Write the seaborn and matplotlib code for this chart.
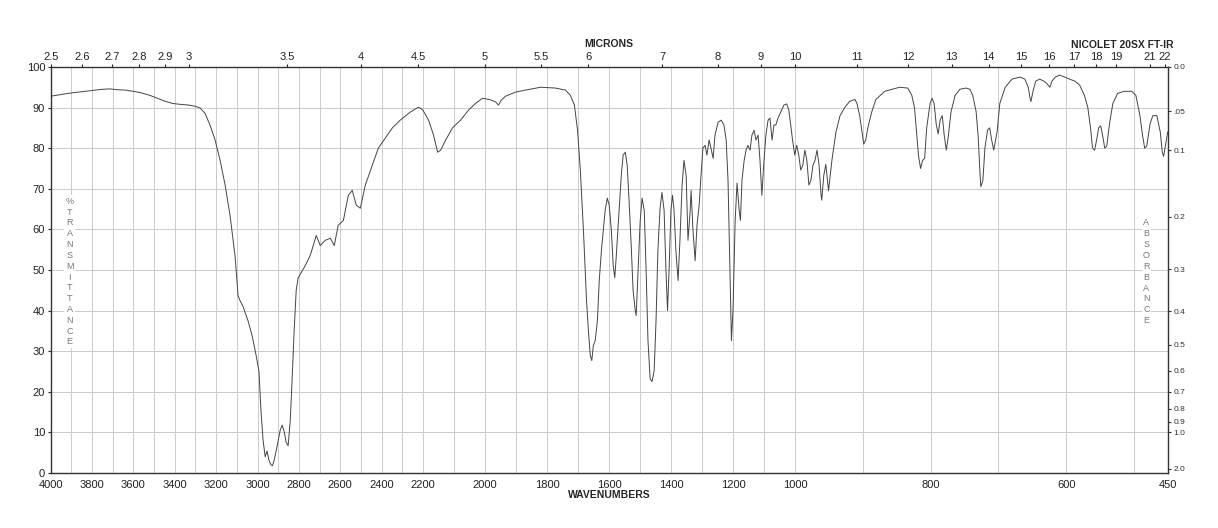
import numpy as np
import pandas as pd
import seaborn as sns
import matplotlib
matplotlib.use("Agg")
import matplotlib.pyplot as plt

# spectrum (cm-1, %T)
wavenumber = [
    4000, 3950, 3900, 3850, 3800, 3750, 3714, 3680, 3640, 3600, 3560, 3520, 3480, 3450, 3410,
    3375, 3330, 3300, 3278, 3254, 3230, 3205, 3181, 3157, 3133, 3109, 3094, 3085, 3070, 3046,
    3026, 3007, 2993, 2983, 2973, 2963, 2954, 2945, 2935, 2928, 2920, 2905, 2891, 2881, 2871,
    2862, 2852, 2842, 2833, 2823, 2813, 2804, 2770, 2745, 2716, 2697, 2673, 2648, 2629, 2610,
    2585, 2561, 2542, 2523, 2503, 2479, 2445, 2416, 2382, 2348, 2310, 2261, 2222, 2201, 2182,
    2166, 2153, 2143, 2127, 2105, 2079, 2053, 2031, 2008, 1982, 1966, 1957, 1948, 1934, 1902,
    1870, 1821, 1773, 1741, 1725, 1712, 1702, 1693, 1683, 1673, 1667, 1661, 1656, 1651, 1645,
    1638, 1632, 1625, 1619, 1613, 1606, 1600, 1593, 1587, 1582, 1577, 1568, 1561, 1555, 1548,
    1542, 1536, 1529, 1523, 1516, 1513, 1507, 1500, 1494, 1487, 1481, 1475, 1468, 1462, 1455,
    1449, 1443, 1436, 1430, 1423, 1417, 1412, 1407, 1401, 1396, 1391, 1385, 1378, 1372, 1365,
    1359, 1352, 1346, 1339, 1336, 1330, 1323, 1317, 1310, 1304, 1298, 1291, 1285, 1278, 1272,
    1265, 1259, 1249, 1239, 1230, 1223, 1217, 1210, 1206, 1201, 1194, 1188, 1181, 1177, 1172,
    1165, 1159, 1153, 1146, 1140, 1133, 1127, 1120, 1114, 1108, 1101, 1095, 1088, 1082, 1075,
    1069, 1063, 1056, 1047, 1037, 1028, 1021, 1015, 1009, 1002, 998, 995, 992, 989, 986,
    983, 980, 977, 974, 971, 968, 965, 962, 961, 958, 955, 951, 946, 940, 934,
    927, 920, 912, 909, 905, 902, 899, 896, 893, 887, 881, 868, 846, 834, 828,
    824, 821, 818, 815, 812, 809, 806, 801, 798, 795, 792, 789, 786, 783, 780,
    777, 774, 770, 764, 757, 748, 742, 738, 733, 730, 727, 726, 723, 720, 716,
    713, 710, 707, 702, 698, 690, 680, 668, 661, 656, 653, 652, 649, 645, 639,
    633, 629, 624, 621, 616, 610, 602, 595, 587, 580, 573, 568, 564, 561, 558,
    555, 552, 549, 546, 543, 540, 536, 531, 524, 514, 503, 497, 491, 487, 484,
    481, 476, 472, 466, 461, 458, 456, 454, 451, 450,
]
transmittance = [
    92.8, 93.2, 93.6, 93.9, 94.2, 94.5, 94.6, 94.4, 94.3, 94.0, 93.6, 93.0, 92.2, 91.6, 91.0,
    90.8, 90.6, 90.3, 89.9, 88.6, 85.7, 82.0, 77.0, 71.0, 63.5, 53.6, 43.7, 42.5, 41.0, 37.5,
    33.8, 29.0, 25.0, 15.0, 8.0, 4.0, 5.4, 3.2, 2.0, 1.8, 3.0, 6.7, 10.4, 11.8, 10.2,
    7.6, 6.7, 12.8, 22.7, 35.0, 45.0, 48.0, 51.0, 53.6, 58.5, 56.0, 57.3, 57.8, 56.0, 61.0,
    62.2, 68.4, 69.6, 66.0, 65.2, 70.9, 75.8, 80.0, 82.5, 85.0, 86.9, 88.9, 90.1, 89.4, 86.9,
    83.2, 79.0, 79.5, 82.0, 85.0, 86.9, 89.4, 91.0, 92.3, 91.9, 91.4, 90.6, 91.8, 92.8, 93.8,
    94.3, 95.0, 94.8, 94.3, 93.0, 90.6, 84.4, 74.6, 59.8, 42.5, 35.0, 29.0, 27.7, 31.4, 32.6,
    37.5, 47.4, 54.8, 59.8, 64.7, 67.7, 66.0, 59.8, 51.0, 48.1, 53.6, 64.7, 73.3, 78.3, 79.0,
    75.8, 67.2, 56.0, 45.0, 40.0, 38.8, 49.9, 62.2, 67.7, 64.7, 49.9, 32.6, 23.2, 22.5, 25.2,
    37.5, 54.8, 65.2, 69.1, 64.7, 49.9, 40.0, 49.9, 64.7, 68.4, 64.7, 54.8, 47.4, 57.3, 70.9,
    77.0, 73.3, 57.3, 64.7, 69.6, 59.8, 52.3, 61.0, 66.0, 73.3, 80.0, 80.7, 78.3, 82.0, 80.0,
    77.5, 83.2, 86.4, 86.9, 85.7, 82.0, 72.1, 47.4, 32.6, 40.0, 62.2, 71.4, 64.7, 62.2, 72.1,
    77.0, 79.5, 80.7, 79.5, 83.2, 84.4, 82.0, 83.2, 77.0, 68.4, 77.0, 83.2, 86.9, 87.4, 82.0,
    85.7, 85.7, 87.4, 88.9, 90.6, 90.9, 89.4, 85.7, 82.0, 78.3, 80.7, 78.3, 74.6, 75.8, 79.5,
    77.0, 70.9, 72.1, 75.8, 77.0, 79.5, 75.8, 68.4, 67.2, 73.3, 76.0, 69.5, 77.0, 84.0, 88.0,
    90.0, 91.5, 92.0, 91.0, 88.0, 84.5, 81.0, 82.0, 85.0, 89.0, 92.0, 94.0, 95.0, 94.8, 93.0,
    90.0, 84.0, 78.0, 75.0, 77.0, 77.5, 85.0, 91.0, 92.3, 91.0, 86.0, 83.5, 87.0, 88.0, 83.0,
    79.5, 83.0, 89.0, 93.0, 94.5, 94.8, 94.5, 93.0, 89.0, 83.0, 73.0, 70.5, 72.0, 80.0, 84.5,
    85.0, 82.0, 79.5, 84.0, 91.0, 95.0, 97.0, 97.5, 97.0, 95.0, 92.0, 91.5, 94.0, 96.5, 97.0,
    96.5, 96.0, 95.0, 96.5, 97.5, 98.0, 97.5, 97.0, 96.5, 95.5, 93.0, 90.0, 85.0, 80.0, 79.5,
    82.0, 85.0, 85.5, 83.0, 80.0, 80.5, 86.0, 91.0, 93.5, 94.0, 94.0, 93.0, 88.0, 83.0, 80.0,
    80.5, 86.0, 88.0, 88.0, 84.0, 79.0, 78.0, 80.0, 83.0, 84.0,
]

wavenumber_ticks = [4000, 3800, 3600, 3400, 3200, 3000, 2800, 2600, 2400, 2200,
                    2000, 1800, 1600, 1400, 1200, 1000, 800, 600, 450]
micron_ticks = [2.5, 2.6, 2.7, 2.8, 2.9, 3, 3.5, 4, 4.5, 5, 5.5, 6, 7, 8, 9, 10,
                11, 12, 13, 14, 15, 16, 17, 18, 19, 21, 22]
micron_labels = ["2.5", "2.6", "2.7", "2.8", "2.9", "3", "3.5", "4", "4.5", "5", "5.5",
                 "6", "7", "8", "9", "10", "11", "12", "13", "14", "15", "16", "17",
                 "18", "19", "21", "22"]
absorbance_ticks = [0.0, 0.05, 0.1, 0.2, 0.3, 0.4, 0.5, 0.6, 0.7, 0.8, 0.9, 1.0, 2.0]
absorbance_labels = ["0.0", ".05", "0.1", "0.2", "0.3", "0.4", "0.5", "0.6", "0.7",
                     "0.8", "0.9", "1.0", "2.0"]

df = pd.DataFrame({"wavenumber": wavenumber, "T": transmittance})

# chart paper changes scale at 2200 and 1000 cm-1, three equal-width sections
breaks_wn = [450, 1000, 2200, 4000]
breaks_pos = [0, 1, 2, 3]


def fwd(x):
    return np.interp(x, breaks_wn, breaks_pos)


def inv(p):
    return np.interp(p, breaks_pos, breaks_wn)


sns.set_theme(style="white")
plt.rcParams["font.family"] = ["Liberation Sans", "DejaVu Sans"]

fig = plt.figure(figsize=(12.18, 5.28), dpi=100)
ax = fig.add_axes([0.0416, 0.1042, 0.9171, 0.769])

ax.set_xscale("function", functions=(fwd, inv))
ax.set_xlim(4000, 450)
ax.set_ylim(0, 100)

sns.lineplot(data=df, x="wavenumber", y="T", ax=ax, color="#444444",
             linewidth=0.7, estimator=None, sort=False)

grid_col = "#cbcbcb"
ax.set_xticks(wavenumber_ticks)
ax.set_xticklabels([str(t) for t in wavenumber_ticks])
ax.set_xticks(list(range(500, 4000, 100)), minor=True)
ax.set_yticks(range(0, 101, 10))
ax.grid(True, which="both", axis="x", color=grid_col, linewidth=0.7)
ax.grid(True, which="major", axis="y", color=grid_col, linewidth=0.7)
ax.set_axisbelow(True)
ax.set_xlabel("")
ax.set_ylabel("")
ax.tick_params(axis="x", which="both", length=0, pad=5, labelsize=8, colors="#222222")
ax.tick_params(axis="y", length=2.5, width=0.8, pad=1.5, labelsize=8, colors="#222222")

for sp in ax.spines.values():
    sp.set_color("#333333")
    sp.set_linewidth(1.0)

# microns along the top
axt = ax.twiny()
axt.set_xscale("function", functions=(fwd, inv))
axt.set_xlim(4000, 450)
axt.set_xticks([10000 / m for m in micron_ticks])
axt.set_xticklabels(micron_labels)
axt.set_xticks([], minor=True)
axt.tick_params(axis="x", length=2.5, width=0.8, pad=1, labelsize=8, colors="#222222")
axt.grid(False)

# absorbance on the right
axr = ax.twinx()
axr.set_ylim(0, 100)
axr.set_yticks([100 * 10 ** (-a) for a in absorbance_ticks])
axr.set_yticklabels(absorbance_labels)
axr.set_yticks([], minor=True)
axr.tick_params(axis="y", length=2.5, width=0.8, pad=1.5, labelsize=6, colors="#333333")
axr.grid(False)
for a in (axt, axr):
    for sp in a.spines.values():
        sp.set_visible(False)

ax.text(0.017, 0.496, "\n".join("%TRANSMITTANCE"), transform=ax.transAxes,
        ha="center", va="center", fontsize=6.5, color="#777777", linespacing=1.26,
        bbox=dict(facecolor="white", edgecolor="none", pad=1))
ax.text(0.981, 0.496, "\n".join("ABSORBANCE"), transform=ax.transAxes,
        ha="center", va="center", fontsize=6.5, color="#777777", linespacing=1.28,
        bbox=dict(facecolor="white", edgecolor="none", pad=1))

fig.text(0.5, 0.916, "MICRONS", ha="center", va="center", fontsize=7.5, fontweight="bold")
fig.text(0.5, 0.062, "WAVENUMBERS", ha="center", va="center", fontsize=7.5, fontweight="bold")
fig.text(0.921, 0.915, "NICOLET 20SX FT-IR", ha="center", va="center", fontsize=7.5,
         fontweight="bold")

fig.savefig("out.png", dpi=100)
